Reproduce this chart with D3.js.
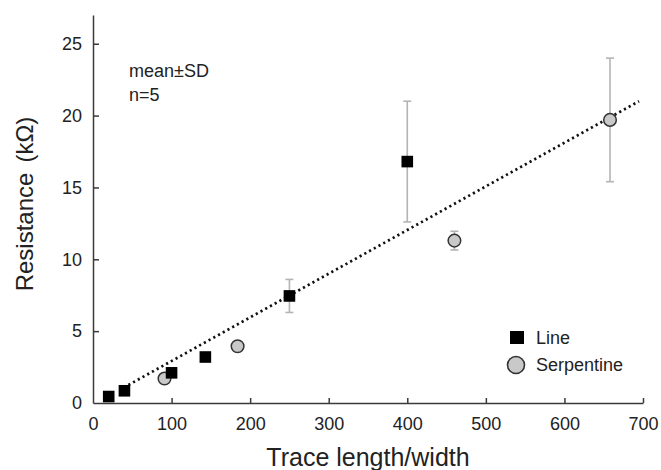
<!DOCTYPE html>
<html>
<head>
<meta charset="utf-8">
<script src="https://cdn.jsdelivr.net/npm/d3@7"></script>
<style>
  body { margin: 0; background: #fff; }
  svg { font-family: "Liberation Sans", Arial, sans-serif; }
</style>
</head>
<body>
<div id="chart"></div>
<script>
var chart_width = 661;
var chart_height = 470;

// Line traces
var lineX = [20, 40, 100, 143, 250, 400];
var lineY = [0.45, 0.85, 2.1, 3.2, 7.45, 16.8];
var lineSD = [0, 0, 0, 0, 1.15, 4.2];

// Serpentine traces
var serpX = [91, 184, 460, 658];
var serpY = [1.7, 3.95, 11.3, 19.7];
var serpSD = [0, 0, 0.65, 4.3];

// linear fit end points
var fitX = [45, 695];
var fitY = [1.25, 21.0];

var xTicks = [0, 100, 200, 300, 400, 500, 600, 700];
var yTicks = [0, 5, 10, 15, 20, 25];
var legendLabels = ["Line", "Serpentine"];

var margin = {left: 93, top: 15, right: 18, bottom: 67};

var svg = d3.select('#chart')
  .append('svg')
  .attr('width', chart_width)
  .attr('height', chart_height);

var x = d3.scaleLinear().domain([0, 700]).range([margin.left, chart_width - margin.right]);
var y = d3.scaleLinear().domain([0, 27]).range([chart_height - margin.bottom, margin.top]);

//Axes
var xAxis = d3.axisBottom(x).tickValues(xTicks).tickSizeInner(-5).tickSizeOuter(0).tickPadding(14);
var yAxis = d3.axisLeft(y).tickValues(yTicks).tickSizeInner(-6).tickSizeOuter(0).tickPadding(11);

var gx = svg.append('g')
  .attr('transform', 'translate(0,' + y(0) + ')')
  .call(xAxis);
var gy = svg.append('g')
  .attr('transform', 'translate(' + x(0) + ',0)')
  .call(yAxis);

[gx, gy].forEach(function(g){
  g.selectAll('path, line').attr('stroke', '#3a3a3a').attr('stroke-width', 1.5);
  g.selectAll('text').attr('font-size', 18).attr('fill', '#222')
    .attr('font-family', '"Liberation Sans", Arial, sans-serif');
});
gy.selectAll('.tick').filter(function(d){ return d === 0; }).select('line').remove();
gx.selectAll('.tick').filter(function(d){ return d === 0; }).select('line').remove();

//Axis titles
svg.append('text')
  .attr('x', (x(0) + x(700)) / 2)
  .attr('y', 466)
  .attr('text-anchor', 'middle')
  .attr('font-size', 25)
  .attr('fill', '#222')
  .text('Trace length/width');

var yt = svg.append('text')
  .attr('transform', 'translate(33,' + 204 + ') rotate(-90)')
  .attr('text-anchor', 'middle')
  .attr('font-size', 24)
  .attr('fill', '#222');
yt.append('tspan').text('Resistance');
yt.append('tspan').attr('dx', 10).text('(kΩ)');

//Fit line
svg.append('line')
  .attr('x1', x(fitX[0])).attr('y1', y(fitY[0]))
  .attr('x2', x(fitX[1])).attr('y2', y(fitY[1]))
  .attr('stroke', '#111')
  .attr('stroke-width', 2.7)
  .attr('stroke-dasharray', '2.2,3.2');

//Error bars
var lineData = lineX.map(function(d, i){ return {x: d, y: lineY[i], sd: lineSD[i]}; });
var serpData = serpX.map(function(d, i){ return {x: d, y: serpY[i], sd: serpSD[i]}; });

var errData = lineData.concat(serpData).filter(function(d){ return d.sd > 0; });
var err = svg.append('g').attr('stroke', '#b4b4b4').attr('stroke-width', 1.6);
errData.forEach(function(d){
  err.append('line').attr('x1', x(d.x)).attr('x2', x(d.x))
    .attr('y1', y(d.y - d.sd)).attr('y2', y(d.y + d.sd));
  err.append('line').attr('x1', x(d.x) - 4).attr('x2', x(d.x) + 4)
    .attr('y1', y(d.y - d.sd)).attr('y2', y(d.y - d.sd));
  err.append('line').attr('x1', x(d.x) - 4).attr('x2', x(d.x) + 4)
    .attr('y1', y(d.y + d.sd)).attr('y2', y(d.y + d.sd));
});

//Markers
svg.selectAll('circle.serp')
  .data(serpData)
  .enter()
  .append('circle')
  .attr('class', 'serp')
  .attr('cx', function(d){ return x(d.x); })
  .attr('cy', function(d){ return y(d.y); })
  .attr('r', 6.3)
  .attr('fill', '#c9c9c9')
  .attr('stroke', '#333')
  .attr('stroke-width', 1.5);

svg.selectAll('rect.line')
  .data(lineData)
  .enter()
  .append('rect')
  .attr('class', 'line')
  .attr('x', function(d){ return x(d.x) - 5.8; })
  .attr('y', function(d){ return y(d.y) - 5.8; })
  .attr('width', 11.6)
  .attr('height', 11.6)
  .attr('fill', '#000');

//Annotation
svg.append('text').attr('x', 129).attr('y', 77).attr('font-size', 18).attr('fill', '#222').text('mean±SD');
svg.append('text').attr('x', 129).attr('y', 101).attr('font-size', 18).attr('fill', '#222').text('n=5');

//Legend
var legend = svg.append('g').attr('transform', 'translate(517,338)');
legend.append('rect').attr('x', -7).attr('y', -7).attr('width', 14).attr('height', 13).attr('fill', '#000');
legend.append('circle').attr('cx', -1).attr('cy', 27).attr('r', 8.5)
  .attr('fill', '#c9c9c9').attr('stroke', '#333').attr('stroke-width', 1.6);
legend.selectAll('text.leg')
  .data(legendLabels)
  .enter()
  .append('text')
  .attr('class', 'leg')
  .attr('x', 19)
  .attr('y', function(d, i){ return 6 + i * 27; })
  .attr('font-size', 18)
  .attr('fill', '#222')
  .text(function(d){ return d; });
</script>
</body>
</html>
